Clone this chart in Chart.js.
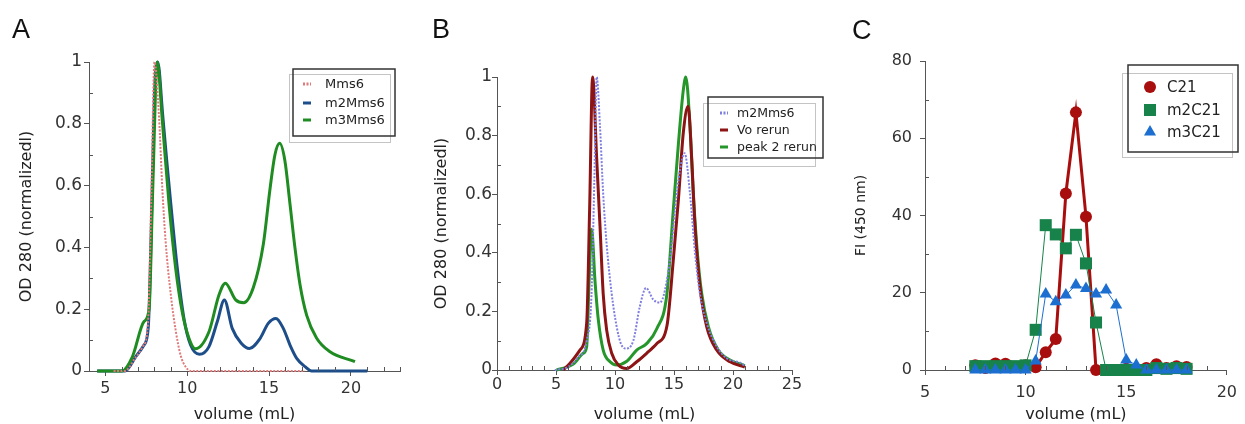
<!DOCTYPE html>
<html>
<head>
<meta charset="utf-8">
<title>Elution profiles</title>
<script src="https://cdn.jsdelivr.net/npm/chart.js@4.4.1/dist/chart.umd.min.js"></script>
<style>
  html, body { margin: 0; padding: 0; background: #fff; }
  body { position: relative; width: 1245px; height: 424px; overflow: hidden; }
  .panel { position: absolute; top: 0; width: 415px; height: 424px; }
  .letter { position: absolute; font-family: "Liberation Sans", Arial, sans-serif; font-size: 27px; line-height: 27px; color: #111; }
</style>
</head>
<body>
<div class="panel" style="left:0"><canvas id="chart-a" width="415" height="424"></canvas></div>
<div class="panel" style="left:415px"><canvas id="chart-b" width="415" height="424"></canvas></div>
<div class="panel" style="left:830px"><canvas id="chart-c" width="415" height="424"></canvas></div>
<div class="letter" style="left:12px;top:16px">A</div>
<div class="letter" style="left:432px;top:16px">B</div>
<div class="letter" style="left:852px;top:17px">C</div>

<script>
// panel A - OD 280 traces
var aMms6Vol = [5.5, 6.2, 6.8, 7.3, 7.6, 7.8, 8.0, 8.28, 8.48, 8.68, 8.99, 9.3, 9.6, 9.9, 10.2, 13, 17.2];
var aMms6Od  = [0, 0, 0.04, 0.08, 0.15, 0.55, 1.0, 0.82, 0.59, 0.42, 0.25, 0.13, 0.05, 0.014, 0, 0, 0];

var aM2Vol = [4.5, 6.2, 6.85, 7.36, 7.62, 7.8, 8.0, 8.2, 8.5, 8.75, 9.0, 9.4, 9.8, 10.2, 10.75, 11.33, 11.84, 12.27, 12.75, 13.3, 13.8, 14.45, 14.95, 15.42, 15.87, 16.28, 16.69, 17.2, 17.6, 21];
var aM2Od  = [0, 0, 0.046, 0.084, 0.14, 0.45, 0.9, 1.0, 0.83, 0.68, 0.54, 0.33, 0.17, 0.085, 0.054, 0.079, 0.16, 0.23, 0.138, 0.09, 0.073, 0.105, 0.154, 0.17, 0.138, 0.084, 0.041, 0.014, 0, 0];

var aM3Vol = [4.5, 6.0, 6.65, 7.36, 7.67, 7.9, 8.17, 8.48, 8.89, 9.3, 9.7, 10.1, 10.5, 11.33, 11.94, 12.33, 12.96, 13.45, 14.04, 14.65, 15.06, 15.36, 15.65, 15.97, 16.28, 16.58, 16.89, 17.3, 17.9, 18.7, 20.25];
var aM3Od  = [0, 0, 0.046, 0.16, 0.2, 0.6, 1.0, 0.81, 0.54, 0.33, 0.19, 0.107, 0.072, 0.127, 0.246, 0.284, 0.23, 0.221, 0.27, 0.41, 0.59, 0.7, 0.737, 0.68, 0.54, 0.4, 0.28, 0.18, 0.107, 0.063, 0.03];

// panel B - reruns
var bM2Vol = [4.9, 6.0, 6.8, 7.6, 8.0, 8.25, 8.45, 8.73, 9.0, 9.29, 9.72, 10.14, 10.5, 10.9, 11.55, 12.1, 12.63, 13.25, 13.8, 14.66, 15.08, 15.5, 15.9, 16.36, 16.78, 17.2, 17.77, 18.62, 19.46, 20.6, 21.0];
var bM2Od  = [0, 0.01, 0.04, 0.1, 0.25, 0.65, 1.0, 0.83, 0.6, 0.43, 0.26, 0.148, 0.09, 0.073, 0.1, 0.216, 0.28, 0.24, 0.23, 0.375, 0.546, 0.68, 0.74, 0.6, 0.4, 0.26, 0.16, 0.08, 0.04, 0.025, 0.015];

var bVoVol = [5.6, 6.19, 7.03, 7.6, 7.85, 8.1, 8.45, 8.73, 9.0, 9.29, 9.72, 10.28, 11.0, 11.84, 12.68, 13.53, 14.4, 14.94, 15.37, 15.79, 16.2, 16.5, 16.78, 17.2, 17.77, 18.62, 19.75, 21.0];
var bVoOd  = [0, 0.023, 0.068, 0.16, 0.55, 1.0, 0.72, 0.49, 0.26, 0.137, 0.057, 0.017, 0.005, 0.028, 0.057, 0.09, 0.15, 0.375, 0.58, 0.81, 0.9, 0.72, 0.49, 0.284, 0.148, 0.068, 0.028, 0.01];

var bP2Vol = [5.06, 6.47, 7.31, 7.6, 7.8, 8.02, 8.3, 8.59, 9.0, 9.58, 10.14, 11.0, 11.84, 12.68, 13.53, 14.4, 14.94, 15.37, 15.79, 16.0, 16.36, 16.64, 16.98, 17.35, 17.91, 18.75, 19.75, 21.0];
var bP2Od  = [0, 0.02, 0.057, 0.08, 0.3, 0.48, 0.307, 0.17, 0.068, 0.028, 0.017, 0.03, 0.068, 0.09, 0.14, 0.26, 0.546, 0.77, 0.956, 1.0, 0.83, 0.6, 0.4, 0.26, 0.148, 0.068, 0.034, 0.015];

// panel C - fluorescence of fractions
var cVolume = [7.5, 8, 8.5, 9, 9.5, 10, 10.5, 11, 11.5, 12, 12.5, 13, 13.5, 14, 14.5, 15, 15.5, 16, 16.5, 17, 17.5, 18];
var cC21    = [1.2, 0.5, 1.7, 1.6, 0.8, 1.2, 0.7, 4.6, 8.0, 45.7, 66.7, 39.7, 0, 0, 0, 0.3, 0, 0.5, 1.5, 0.5, 1.0, 0.8];
var cM2C21  = [1.0, 1.0, 1.0, 1.0, 1.0, 1.2, 10.4, 37.5, 35.1, 31.5, 35.0, 27.6, 12.3, 0, 0, 0, 0, 0, 0.5, 0.3, 0.5, 0.3];
var cM3C21  = [0, 0, 0, 0, 0, 0, 2.3, 19.7, 17.7, 19.4, 22.0, 21.1, 19.7, 20.7, 16.8, 2.6, 1.3, 0, 0, 0, 0, 0];

;(function () {
    'use strict';

    var FONT = 'DejaVu Sans';
    var AXIS = '#555';
    var W = 415, H = 424;

    function pts(xs, ys) {
        return xs.map(function (x, i) { return {x: x, y: ys[i]}; });
    }

    function isMult(v, step) {
        var k = v / step;
        return Math.abs(k - Math.round(k)) < 1e-6;
    }

    function fmt(v) {
        return String(Math.round(v * 10) / 10);
    }

    function axis(o) {
        return {
            type: 'linear',
            min: o.min,
            max: o.max,
            border: {display: true, color: AXIS, width: 1},
            grid: {
                display: true,
                drawOnChartArea: false,
                drawTicks: true,
                tickLength: 5,
                tickWidth: 1,
                tickColor: function (c) {
                    return c.tick && isMult(c.tick.value, o.major) ? AXIS : 'rgba(0,0,0,0)';
                }
            },
            ticks: {
                stepSize: o.step,
                maxTicksLimit: 200,
                autoSkip: false,
                maxRotation: 0,
                padding: o.pad,
                color: '#333',
                font: {family: FONT, size: o.tickSize},
                callback: function (v) { return isMult(v, o.major) ? fmt(v) : ''; }
            },
            title: {
                display: true,
                text: o.title,
                color: '#222',
                padding: 0,
                font: {family: FONT, size: o.titleSize}
            },
            afterFit: o.fit
        };
    }

    // short inward marks for the unlabelled ticks
    var minorTicks = {
        id: 'minorTicks',
        afterDraw: function (chart) {
            var ctx = chart.ctx, a = chart.chartArea;
            var sx = chart.scales.x, sy = chart.scales.y;
            ctx.save();
            ctx.strokeStyle = AXIS;
            ctx.lineWidth = 1;
            ctx.beginPath();
            sx.ticks.forEach(function (t) {
                if (t.label !== '') return;
                var px = Math.round(sx.getPixelForValue(t.value)) + 0.5;
                ctx.moveTo(px, a.bottom);
                ctx.lineTo(px, a.bottom - 4);
            });
            sy.ticks.forEach(function (t) {
                if (t.label !== '') return;
                var py = Math.round(sy.getPixelForValue(t.value)) + 0.5;
                ctx.moveTo(a.left, py);
                ctx.lineTo(a.left + 4, py);
            });
            ctx.stroke();
            ctx.restore();
        }
    };

    var boxLegend = {
        id: 'boxLegend',
        afterDraw: function (chart, args, o) {
            var ctx = chart.ctx;
            ctx.save();
            ctx.strokeStyle = '#c4c4c4';
            ctx.lineWidth = 1;
            ctx.strokeRect(o.sx + 0.5, o.sy + 0.5, o.sw, o.sh);
            ctx.strokeStyle = '#333';
            ctx.lineWidth = 1.5;
            ctx.strokeRect(o.ox, o.oy, o.ow, o.oh);

            ctx.font = o.size + 'px "' + FONT + '"';
            ctx.textBaseline = 'middle';
            ctx.textAlign = 'left';
            chart.data.datasets.forEach(function (ds, i) {
                var y = o.rows[i];
                if (o.kind === 'line') {
                    ctx.strokeStyle = ds.borderColor;
                    ctx.lineWidth = 3;
                    ctx.setLineDash(ds.borderDash ? [2, 1.5] : []);
                    ctx.beginPath();
                    ctx.moveTo(o.markX, y);
                    ctx.lineTo(o.markX + 8, y);
                    ctx.stroke();
                    ctx.setLineDash([]);
                } else {
                    ctx.fillStyle = ds.pointBackgroundColor;
                    Chart.helpers.drawPoint(ctx, {
                        pointStyle: ds.pointStyle,
                        radius: ds.pointRadius,
                        rotation: 0,
                        borderWidth: 0
                    }, o.markX, y);
                }
                ctx.fillStyle = '#222';
                ctx.fillText(ds.label, o.textX, y + 1);
            });
            ctx.restore();
        }
    };

    function frame(area, padLeft) {
        return {
            padding: {left: padLeft, top: area.top, right: W - area.right, bottom: 0},
            yFit: function (s) { s.width = area.left - padLeft; },
            xFit: function (s) { s.height = H - area.bottom; }
        };
    }

    function curve(label, xs, ys, color, width, dotted, order) {
        return {
            label: label,
            data: pts(xs, ys),
            showLine: true,
            borderColor: color,
            borderWidth: width,
            borderDash: dotted ? [2, 1.5] : undefined,
            pointRadius: 0,
            cubicInterpolationMode: 'monotone',
            clip: false,
            order: order
        };
    }

    function markers(label, xs, ys, color, style, radius, lineWidth, order) {
        return {
            label: label,
            data: pts(xs, ys),
            showLine: true,
            borderColor: color,
            borderWidth: lineWidth,
            tension: 0,
            pointStyle: style,
            pointRadius: radius,
            pointBackgroundColor: color,
            pointBorderColor: color,
            pointBorderWidth: 0,
            clip: false,
            order: order
        };
    }

    function makeChart(id, datasets, f, xAxis, yAxis, legend) {
        xAxis.afterFit = f.xFit;
        yAxis.afterFit = f.yFit;
        return new Chart(document.getElementById(id), {
            type: 'scatter',
            data: {datasets: datasets},
            options: {
                responsive: false,
                animation: false,
                events: [],
                layout: {padding: f.padding},
                scales: {x: xAxis, y: yAxis},
                plugins: {
                    legend: {display: false},
                    tooltip: {enabled: false},
                    boxLegend: legend
                }
            },
            plugins: [minorTicks, boxLegend]
        });
    }

    init();
    function init () {
        var fa = frame({left: 89, top: 62, right: 400, bottom: 371}, 17);
        makeChart('chart-a', [
            curve('Mms6', aMms6Vol, aMms6Od, '#e07a7a', 2, true, 0),
            curve('m2Mms6', aM2Vol, aM2Od, '#1d4e89', 3, false, 2),
            curve('m3Mms6', aM3Vol, aM3Od, '#1f8c22', 3, false, 1)
        ], fa,
        axis({min: 4, max: 23, step: 1, major: 5, pad: 3, tickSize: 16, titleSize: 16, title: 'volume (mL)'}),
        axis({min: 0, max: 1, step: 0.1, major: 0.2, pad: 2, tickSize: 17, titleSize: 16, title: 'OD 280 (normalizedl)'}),
        {kind: 'line', ox: 293, oy: 69, ow: 102, oh: 67, sx: 289, sy: 74, sw: 101, sh: 68,
         markX: 303, textX: 325, rows: [84, 103, 120], size: 13});

        var fb = frame({left: 82, top: 77, right: 377, bottom: 370}, 17);
        makeChart('chart-b', [
            curve('m2Mms6', bM2Vol, bM2Od, '#7f7fe0', 2, true, 0),
            curve('Vo rerun', bVoVol, bVoOd, '#8c1414', 3, false, 1),
            curve('peak 2 rerun', bP2Vol, bP2Od, '#24962a', 3, false, 2)
        ], fb,
        axis({min: 0, max: 25, step: 1, major: 5, pad: 0, tickSize: 16, titleSize: 16, title: 'volume (mL)'}),
        axis({min: 0, max: 1, step: 0.1, major: 0.2, pad: 0, tickSize: 17, titleSize: 16, title: 'OD 280 (normalizedl)'}),
        {kind: 'line', ox: 293, oy: 97, ow: 115, oh: 61, sx: 288, sy: 103, sw: 112, sh: 63,
         markX: 305, textX: 322, rows: [113, 130, 147], size: 12.5});

        var fc = frame({left: 95, top: 61, right: 405, bottom: 370}, 23);
        makeChart('chart-c', [
            markers('C21', cVolume, cC21, '#a80e0e', 'circle', 6, 3, 3),
            markers('m2C21', cVolume, cM2C21, '#17834a', 'rect', 8.5, 1, 2),
            markers('m3C21', cVolume, cM3C21, '#1c6fd1', 'triangle', 7, 1, 1)
        ], fc,
        axis({min: 5, max: 20, step: 1, major: 5, pad: 8, tickSize: 16, titleSize: 16, title: 'volume (mL)'}),
        axis({min: 0, max: 80, step: 10, major: 20, pad: 8, tickSize: 16, titleSize: 14, title: 'FI (450 nm)'}),
        {kind: 'point', ox: 298, oy: 65, ow: 110, oh: 87, sx: 292, sy: 73, sw: 110, sh: 84,
         markX: 320, textX: 337, rows: [87, 110, 132], size: 15});
    }
})();
</script>
</body>
</html>
